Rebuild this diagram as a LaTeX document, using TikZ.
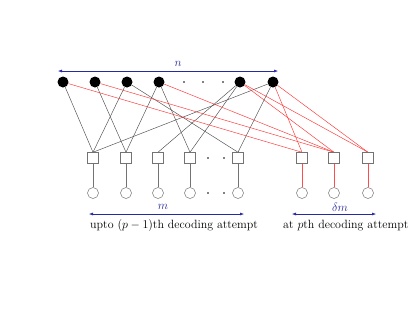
\documentclass[tikz,border=0pt]{standalone}
\usetikzlibrary{arrows.meta,backgrounds}
\begin{document}
\begin{tikzpicture}[x=1bp,y=-1bp,
  vn/.style={circle,fill=black,inner sep=0pt,minimum size=11bp},
  chk/.style={rectangle,draw=black!55,fill=white,inner sep=0pt,minimum size=11bp,line width=0.5bp},
  obs/.style={circle,draw=black!55,inner sep=0pt,minimum size=11bp,line width=0.5bp},
  bedge/.style={draw=black!70,line width=0.45bp},
  redge/.style={draw=red!80,line width=0.45bp},
  gstub/.style={draw=black!55,line width=0.5bp},
  rstub/.style={draw=red!70,line width=0.5bp},
  dimarr/.style={draw={rgb,255:red,40;green,40;blue,160},line width=0.5bp,{Latex[length=4bp,width=3bp]}-{Latex[length=4bp,width=3bp]}},
  dimlab/.style={text={rgb,255:red,40;green,40;blue,160},inner sep=1pt,font=\fontsize{12}{13}\selectfont},
  captext/.style={inner sep=0pt,anchor=west,font=\fontsize{12}{13}\selectfont},
  dot/.style={circle,fill=black,inner sep=0pt,minimum size=1.6bp}]
\useasboundingbox (0,0) rectangle (416,317);
% variable nodes
\node[vn] (c1) at (63,82) {};
\node[vn] (c2) at (95,82) {};
\node[vn] (c3) at (127,82) {};
\node[vn] (c4) at (159,82) {};
\node[vn] (c5) at (240,82) {};
\node[vn] (c6) at (273,82) {};
\node[dot] (d1) at (184,82) {};
\node[dot] (d2) at (203,82) {};
\node[dot] (d3) at (223,82) {};
% check nodes
\node[chk] (s1) at (93,158) {};
\node[chk] (s2) at (126,158) {};
\node[chk] (s3) at (158,158) {};
\node[chk] (s4) at (190,158) {};
\node[chk] (s5) at (238,158) {};
\node[chk] (s7) at (302,158) {};
\node[chk] (s8) at (334,158) {};
\node[chk] (s9) at (368,158) {};
\node[dot] (e1) at (208,158) {};
\node[dot] (e2) at (224,158) {};
% observation nodes
\node[obs] (o1) at (93,193) {};
\node[obs] (o2) at (126,193) {};
\node[obs] (o3) at (158,193) {};
\node[obs] (o4) at (190,193) {};
\node[obs] (o5) at (238,193) {};
\node[obs] (o7) at (302,193) {};
\node[obs] (o8) at (334,193) {};
\node[obs] (o9) at (368,193) {};
\node[dot] (f1) at (208,193) {};
\node[dot] (f2) at (224,193) {};
\begin{scope}[on background layer]
% black edges
\draw[bedge] (c1) -- (s1.north);
\draw[bedge] (c2) -- (s2.north);
\draw[bedge] (c3) -- (s1.north);
\draw[bedge] (c3) -- (s5.north);
\draw[bedge] (c4) -- (s2.north);
\draw[bedge] (c4) -- (s4.north);
\draw[bedge] (c5) -- (s3.north);
\draw[bedge] (c5) -- (s4.north);
\draw[bedge] (c6) -- (s1.north);
\draw[bedge] (c6) -- (s5.north);
% red edges
\draw[redge] (c1) -- (s7.north);
\draw[redge] (c2) -- (s8.north);
\draw[redge] (c4) -- (s8.north);
\draw[redge] (c5) -- (s8.north);
\draw[redge] (c5) -- (s9.north);
\draw[redge] (c6) -- (s7.north);
\draw[redge] (c6) -- (s9.north);
\end{scope}
% stubs
\draw[gstub] (s1) -- (o1);
\draw[gstub] (s2) -- (o2);
\draw[gstub] (s3) -- (o3);
\draw[gstub] (s4) -- (o4);
\draw[gstub] (s5) -- (o5);
\draw[rstub] (s7) -- (o7);
\draw[rstub] (s8) -- (o8);
\draw[rstub] (s9) -- (o9);
% dimension arrows
\coordinate (nA) at (58,71);
\coordinate (nB) at (278,71);
\draw[dimarr] (nA) -- (nB);
\node[dimlab] (nl) at (178,64) {$n$};
\coordinate (mA) at (89,214);
\coordinate (mB) at (244,214);
\draw[dimarr] (mA) -- (mB);
\node[dimlab] (ml) at (163,207) {$m$};
\coordinate (dA) at (292,214);
\coordinate (dB) at (376,214);
\draw[dimarr] (dA) -- (dB);
\node[dimlab] (dl) at (340,207) {$\delta m$};
\node[captext] (t1) at (90,226) {upto $(p-1)$th decoding attempt};
\node[captext] (t2) at (283,226) {at $p$th decoding attempt};
\end{tikzpicture}
\end{document}
